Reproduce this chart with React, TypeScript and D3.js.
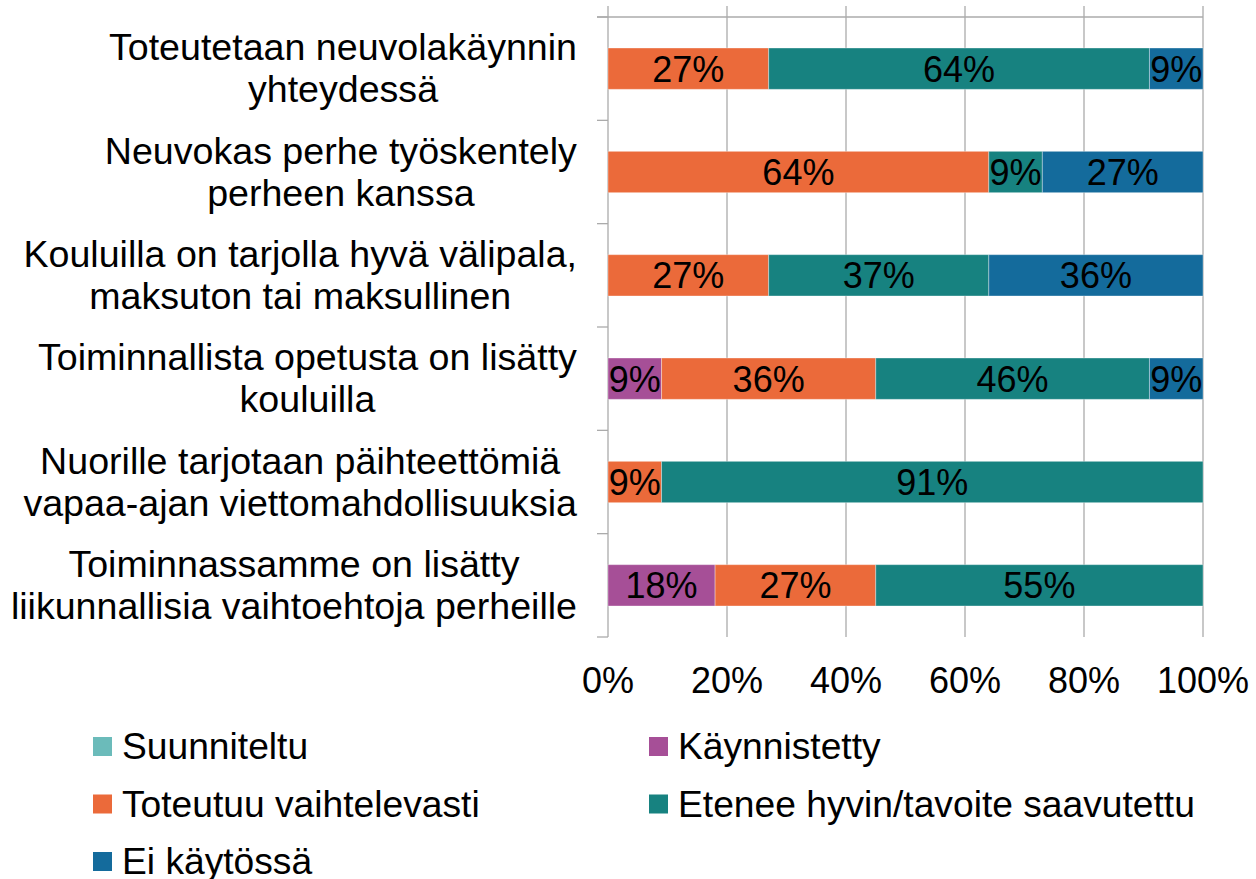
import React, { useEffect, useRef } from 'react';
import * as d3 from 'd3';

const categories = [
  ['Toteutetaan neuvolakäynnin', 'yhteydessä'],
  ['Neuvokas perhe työskentely', 'perheen kanssa'],
  ['Kouluilla on tarjolla hyvä välipala,', 'maksuton tai maksullinen'],
  ['Toiminnallista opetusta on lisätty', 'kouluilla'],
  ['Nuorille tarjotaan päihteettömiä', 'vapaa-ajan viettomahdollisuuksia'],
  ['Toiminnassamme on lisätty', 'liikunnallisia vaihtoehtoja perheille']
];

const seriesNames = [
  'Suunniteltu',
  'Käynnistetty',
  'Toteutuu vaihtelevasti',
  'Etenee hyvin/tavoite saavutettu',
  'Ei käytössä'
];

// one array per series, in category order
const suunniteltu = [0, 0, 0, 0, 0, 0];
const kaynnistetty = [0, 0, 0, 9, 0, 18];
const toteutuu = [27, 64, 27, 36, 9, 27];
const etenee = [64, 9, 37, 46, 91, 55];
const eiKaytossa = [9, 27, 36, 9, 0, 0];

const xTicks = [0, 20, 40, 60, 80, 100];

const colors = ['#6BBBBA', '#A64F97', '#EB6A3A', '#178280', '#146B9C'];

const FONT = '"Liberation Sans", Arial, sans-serif';

export default function App() {
  const ref = useRef<SVGSVGElement>(null);

  useEffect(() => {
    const svg = d3.select(ref.current);
    svg.selectAll('*').remove();

    const left = 608;
    const right = 1203;
    const top = 17;
    const bottom = 637;

    const keys = categories.map((c) => c.join(' '));
    const values = [suunniteltu, kaynnistetty, toteutuu, etenee, eiKaytossa];
    const rows = keys.map((k, i) => {
      const row: any = { key: k };
      seriesNames.forEach((s, j) => { row[s] = values[j][i]; });
      return row;
    });

    const x = d3.scaleLinear().domain([0, 100]).range([left, right]);
    const y = d3.scaleBand()
      .domain(keys)
      .range([top, bottom])
      .paddingInner(0.6)
      .paddingOuter(0.3);
    const step = (bottom - top) / keys.length;

    const stack = d3.stack().keys(seriesNames)(rows);

    // gridlines
    svg.append('g')
      .selectAll('line')
      .data(xTicks)
      .enter()
      .append('line')
      .attr('x1', (d) => x(d))
      .attr('x2', (d) => x(d))
      .attr('y1', 6)
      .attr('y2', bottom)
      .attr('stroke', '#ABABAB')
      .attr('stroke-width', 1.3);

    svg.append('line')
      .attr('x1', left - 11)
      .attr('x2', right)
      .attr('y1', top)
      .attr('y2', top)
      .attr('stroke', '#ABABAB')
      .attr('stroke-width', 1.3);

    // category axis ticks
    svg.append('g')
      .selectAll('line')
      .data(d3.range(keys.length + 1))
      .enter()
      .append('line')
      .attr('x1', left - 11)
      .attr('x2', left)
      .attr('y1', (d) => top + d * step)
      .attr('y2', (d) => top + d * step)
      .attr('stroke', '#ABABAB')
      .attr('stroke-width', 1.3);

    // bars
    stack.forEach((layer, j) => {
      const g = svg.append('g');
      g.selectAll('rect')
        .data(layer.filter((d) => d[1] - d[0] > 0))
        .enter()
        .append('rect')
        .attr('x', (d) => x(d[0]))
        .attr('y', (d: any) => y(d.data.key) as number)
        .attr('width', (d) => x(d[1]) - x(d[0]))
        .attr('height', y.bandwidth())
        .attr('fill', colors[j])
        .attr('stroke', 'rgba(255,255,255,0.35)')
        .attr('stroke-width', 1);

      g.selectAll('text')
        .data(layer.filter((d) => d[1] - d[0] > 0))
        .enter()
        .append('text')
        .attr('x', (d) => (x(d[0]) + x(d[1])) / 2)
        .attr('y', (d: any) => (y(d.data.key) as number) + y.bandwidth() / 2 + 13)
        .attr('text-anchor', 'middle')
        .attr('font-family', FONT)
        .attr('font-size', 36)
        .attr('fill', '#000')
        .text((d) => `${d[1] - d[0]}%`);
    });

    // category labels, each centred on itself with its longest line ending at 577
    categories.forEach((lines, i) => {
      const cy = top + (i + 0.5) * step;
      const g = svg.append('g');
      lines.forEach((line, k) => {
        g.append('text')
          .attr('x', 0)
          .attr('y', cy - 8.5 + k * 42)
          .attr('text-anchor', 'middle')
          .attr('font-family', FONT)
          .attr('font-size', 37.6)
          .attr('fill', '#000')
          .text(line);
      });
      const w = (g.node() as SVGGElement).getBBox().width;
      g.attr('transform', `translate(${577 - w / 2},0)`);
    });

    // x axis labels
    svg.append('g')
      .selectAll('text')
      .data(xTicks)
      .enter()
      .append('text')
      .attr('x', (d) => x(d))
      .attr('y', 693)
      .attr('text-anchor', 'middle')
      .attr('font-family', FONT)
      .attr('font-size', 36)
      .attr('fill', '#000')
      .text((d) => `${d}%`);

    // legend
    const legendCols = [93, 649];
    seriesNames.forEach((s, j) => {
      const col = j % 2;
      const row = Math.floor(j / 2);
      const cy = 746.5 + row * 57.5;
      const g = svg.append('g');
      g.append('rect')
        .attr('x', legendCols[col])
        .attr('y', cy - 9.5)
        .attr('width', 19)
        .attr('height', 19)
        .attr('fill', colors[j]);
      g.append('text')
        .attr('x', legendCols[col] + 29)
        .attr('y', cy + 12.5)
        .attr('font-family', FONT)
        .attr('font-size', 37.2)
        .attr('fill', '#000')
        .text(s);
    });
  }, []);

  return (
    <div style={{ position: 'absolute', left: 0, top: 0 }}>
      <svg ref={ref} width={1256} height={879} style={{ display: 'block', background: '#fff' }} />
    </div>
  );
}
